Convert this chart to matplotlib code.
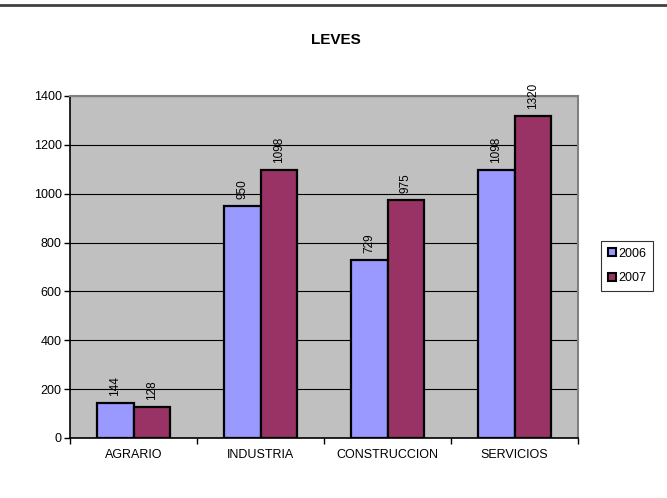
import numpy as np
import matplotlib.pyplot as plt
from matplotlib.lines import Line2D

plt.rcParams['font.family'] = ['Liberation Sans', 'DejaVu Sans']

categories = ['AGRARIO', 'INDUSTRIA', 'CONSTRUCCION', 'SERVICIOS']
series_names = ['2006', '2007']
values_2006 = [144, 950, 729, 1098]
values_2007 = [128, 1098, 975, 1320]
yticks = [0, 200, 400, 600, 800, 1000, 1200, 1400]

colors = ['#9999FF', '#993366']

fig = plt.figure(figsize=(6.67, 4.98), dpi=100)
ax = fig.add_axes([70 / 667, 1 - 438 / 498, 508 / 667, 342 / 498])
ax.set_facecolor('#C0C0C0')

x = np.arange(len(categories))
w = 0.288
bars1 = ax.bar(x - w / 2, values_2006, w, color=colors[0], edgecolor='black', linewidth=1.6, zorder=3)
bars2 = ax.bar(x + w / 2, values_2007, w, color=colors[1], edgecolor='black', linewidth=1.6, zorder=3)

for bars, vals in [(bars1, values_2006), (bars2, values_2007)]:
    for b, v in zip(bars, vals):
        ax.text(b.get_x() + b.get_width() / 2, v + 28, str(v), rotation=90,
                ha='center', va='bottom', fontsize=8.5, zorder=4)

ax.set_xlim(-0.5, len(categories) - 0.5)
ax.set_ylim(0, 1400)
ax.set_yticks(yticks)
ax.set_yticklabels([str(t) for t in yticks], fontsize=9)
ax.yaxis.grid(True, color='black', linewidth=0.8, zorder=1)
ax.set_axisbelow(True)

ax.set_xticks(x)
ax.set_xticklabels(categories, fontsize=9)
ax.tick_params(axis='x', which='major', length=0, pad=8)
ax.set_xticks(np.arange(len(categories) + 1) - 0.5, minor=True)
ax.tick_params(axis='x', which='minor', length=4, direction='out', width=1)
ax.tick_params(axis='y', length=4, direction='out', width=1, pad=2)

ax.spines['left'].set_color('black')
ax.spines['left'].set_linewidth(1.2)
ax.spines['bottom'].set_color('black')
ax.spines['bottom'].set_linewidth(1.2)
ax.spines['top'].set_color('#808080')
ax.spines['top'].set_linewidth(1.5)
ax.spines['right'].set_color('#808080')
ax.spines['right'].set_linewidth(1.5)

fig.text(336 / 667, 1 - 40 / 498, 'LEVES', ha='center', va='center', fontsize=11, fontweight='bold')

# top border line
fig.add_artist(Line2D([0, 1], [1 - 5 / 498, 1 - 5 / 498], color='#404040', linewidth=2))

handles = [plt.Rectangle((0, 0), 1, 1, facecolor=c, edgecolor='black', linewidth=1.5) for c in colors]
leg = fig.legend(handles, series_names, loc='center', bbox_to_anchor=(627 / 667, 1 - 266 / 498),
                 fontsize=9, frameon=True, fancybox=False, edgecolor='black',
                 handlelength=0.6, handleheight=0.6, handletextpad=0.2, labelspacing=1.0,
                 borderpad=0.55, borderaxespad=0)
leg.get_frame().set_linewidth(0.8)

fig.savefig('out.png', dpi=100)
